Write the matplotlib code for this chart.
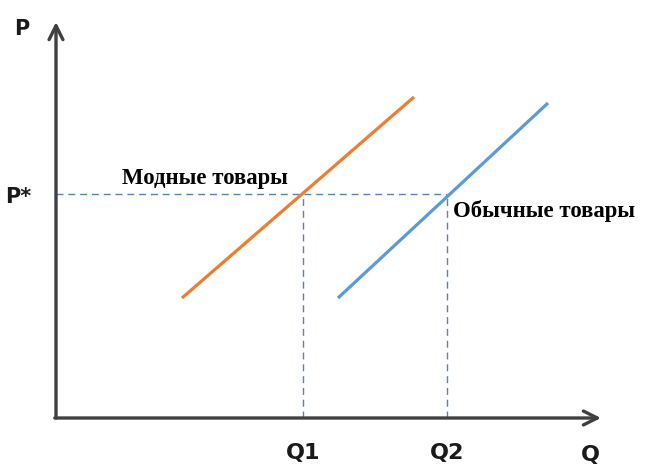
import matplotlib
matplotlib.use("Agg")
import matplotlib.pyplot as plt

# Data (Q, P) in chart units
fashion_q = [126, 358]
fashion_p = [120, 321]
regular_q = [282, 492]
regular_p = [120, 315]
p_star = 224
q1 = 247
q2 = 391
tick_labels = {"Q1": q1, "Q2": q2}

fig = plt.figure(figsize=(6.48, 4.69), dpi=100)
ax = fig.add_axes([0, 0, 1, 1])
ax.set_xlim(-56, 592)
ax.set_ylim(-51, 418)
ax.axis("off")

axis_color = "#404040"
ax.annotate("", xy=(0, 396), xytext=(0, 0),
            arrowprops=dict(arrowstyle="->,head_length=1.0,head_width=0.5", color=axis_color, lw=2.4, shrinkA=0, shrinkB=0))
ax.annotate("", xy=(545, 0), xytext=(-1.2, 0),
            arrowprops=dict(arrowstyle="->,head_length=1.0,head_width=0.5", color=axis_color, lw=2.4, shrinkA=0, shrinkB=0))

dash_color = "#5a82b4"
ax.plot([0, q2], [p_star, p_star], ls=(0, (5, 3.5)), color=dash_color, lw=1.0)
ax.plot([q1, q1], [0, p_star], ls=(0, (5, 3.5)), color=dash_color, lw=1.0)
ax.plot([q2, q2], [0, p_star], ls=(0, (5, 3.5)), color=dash_color, lw=1.0)

ax.plot(fashion_q, fashion_p, color="#ED7D31", lw=2.3, solid_capstyle="butt")
ax.plot(regular_q, regular_p, color="#5B9BD5", lw=2.3, solid_capstyle="butt")

sans = dict(family="DejaVu Sans", fontweight="bold", color="#1a1a1a")
ax.text(-34, 389, "P", fontsize=15, ha="center", va="center", **sans)
ax.text(-38, 221, "P*", fontsize=15, ha="center", va="center", **sans)
for lab, q in tick_labels.items():
    ax.text(q, -35, lab, fontsize=16, ha="center", va="center", **sans)
ax.text(534, -37, "Q", fontsize=16, ha="center", va="center", **sans)

serif = dict(family="Liberation Serif", fontweight="bold", color="black")
ax.text(66, 240, "Модные товары", fontsize=16.4, ha="left", va="center", **serif)
ax.text(397, 207, "Обычные товары", fontsize=16.4, ha="left", va="center", **serif)

fig.savefig("out.png", dpi=100)
